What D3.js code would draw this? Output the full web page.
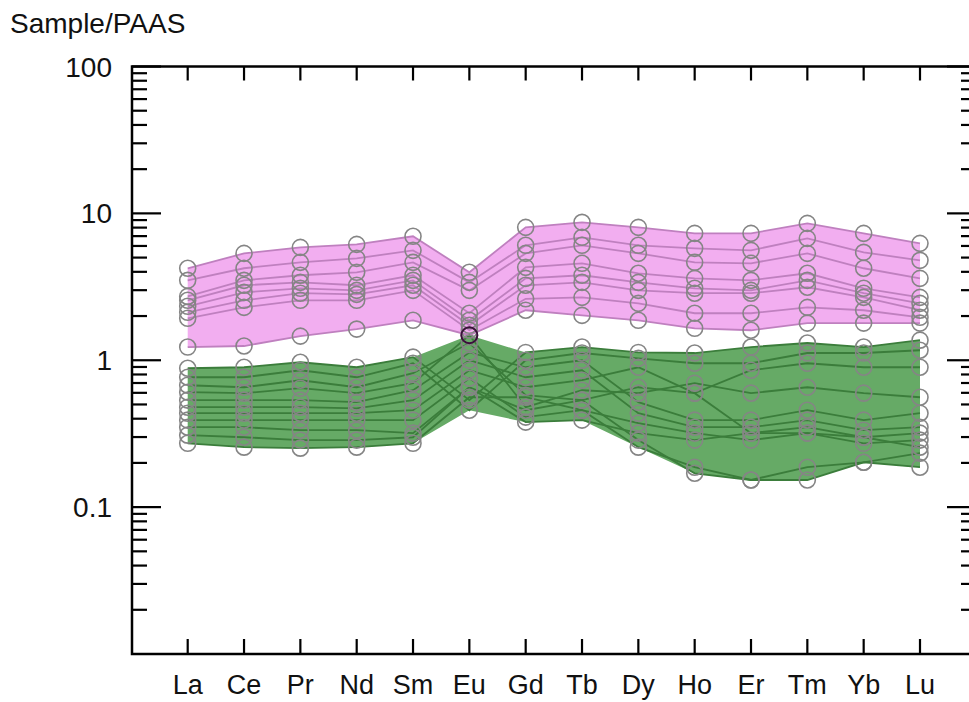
<!DOCTYPE html>
<html>
<head>
<meta charset="utf-8">
<script src="https://cdn.jsdelivr.net/npm/d3@7"></script>
<style>
  html, body { margin: 0; padding: 0; background: #fff; }
  svg { display: block; font-family: "Liberation Sans", Arial, sans-serif; }
</style>
</head>
<body>
<svg id="chart" width="969" height="702"></svg>
<script>
// ---- Data (Sample/PAAS) ----
const elements = ["La","Ce","Pr","Nd","Sm","Eu","Gd","Tb","Dy","Ho","Er","Tm","Yb","Lu"];
const yTickValues = [100, 10, 1, 0.1];
const yTickLabels = ["100", "10", "1", "0.1"];
const yAxisTitle = "Sample/PAAS";

const pinkGroup = [
  [4.23, 5.34, 5.87, 6.15, 6.98, 3.97, 8.03, 8.69, 8.03, 7.31, 7.31, 8.55, 7.31, 6.25],
  [3.50, 4.23, 4.64, 4.94, 5.60, 3.39, 6.06, 6.87, 6.06, 5.78, 5.60, 6.76, 5.43, 4.79],
  [2.72, 3.50, 3.79, 3.97, 4.64, 2.99, 5.34, 6.06, 5.34, 4.64, 4.57, 5.34, 4.23, 3.61],
  [2.56, 3.24, 3.39, 3.24, 3.79, 2.09, 4.29, 4.57, 3.91, 3.61, 3.50, 3.91, 3.09, 2.68],
  [2.33, 2.90, 3.09, 2.99, 3.50, 1.87, 3.61, 3.79, 3.39, 3.09, 2.99, 3.50, 2.86, 2.44],
  [2.12, 2.56, 2.86, 2.81, 3.24, 1.73, 3.24, 3.39, 2.99, 2.86, 2.86, 3.14, 2.68, 2.19],
  [1.93, 2.29, 2.56, 2.56, 2.99, 1.60, 2.62, 2.68, 2.44, 2.09, 2.09, 2.29, 2.19, 1.96],
  [1.23, 1.25, 1.46, 1.63, 1.87, 1.48, 2.19, 2.02, 1.87, 1.65, 1.60, 1.79, 1.79, 1.79]
];

const greenGroup = [
  [0.882, 0.896, 0.969, 0.896, 1.05, 0.535, 1.13, 1.23, 1.13, 1.12, 1.23, 1.31, 1.23, 1.37],
  [0.766, 0.766, 0.855, 0.766, 0.954, 0.457, 1.00, 1.12, 1.03, 0.954, 0.954, 1.12, 1.12, 1.17],
  [0.676, 0.655, 0.731, 0.655, 0.816, 1.31, 0.578, 0.535, 0.655, 0.597, 0.855, 0.954, 0.896, 0.896],
  [0.606, 0.597, 0.645, 0.597, 0.698, 1.48, 0.479, 0.625, 0.597, 0.698, 0.597, 0.655, 0.597, 0.560],
  [0.535, 0.535, 0.535, 0.518, 0.625, 1.13, 0.896, 1.00, 0.518, 0.391, 0.391, 0.457, 0.391, 0.436],
  [0.479, 0.479, 0.479, 0.471, 0.535, 1.00, 0.766, 0.855, 0.436, 0.350, 0.350, 0.391, 0.334, 0.350],
  [0.436, 0.436, 0.436, 0.436, 0.457, 0.855, 0.655, 0.731, 0.896, 0.597, 0.319, 0.350, 0.299, 0.319],
  [0.391, 0.391, 0.391, 0.391, 0.391, 0.755, 0.410, 0.457, 0.373, 0.319, 0.286, 0.319, 0.272, 0.286],
  [0.350, 0.350, 0.334, 0.334, 0.319, 0.655, 0.379, 0.391, 0.319, 0.286, 0.319, 0.319, 0.299, 0.256],
  [0.272, 0.256, 0.252, 0.256, 0.272, 0.560, 0.560, 0.457, 0.256, 0.187, 0.153, 0.187, 0.202, 0.233],
  [0.309, 0.299, 0.286, 0.286, 0.299, 0.655, 0.457, 0.535, 0.286, 0.170, 0.153, 0.153, 0.202, 0.187]
];

// ---- Layout ----
const svg = d3.select("#chart");
const frame = { left: 132, right: 976, top: 66.5, bottom: 654 };

const x = d3.scalePoint().domain(elements).range([187.7, 920]);
const y = d3.scaleLog().domain([0.01, 100]).range([frame.bottom, frame.top]);

const groups = [
  { data: pinkGroup, fill: "#f2aef0", line: "#bf80bf" },
  { data: greenGroup, fill: "#66aa66", line: "#3b7d3b" }
];

// envelopes
groups.forEach(g => {
  const env = elements.map((e, i) => ({
    e,
    lo: d3.min(g.data, s => s[i]),
    hi: d3.max(g.data, s => s[i])
  }));
  const area = d3.area()
    .x(d => x(d.e))
    .y0(d => y(d.lo))
    .y1(d => y(d.hi));
  svg.append("path").datum(env)
    .attr("d", area)
    .attr("fill", g.fill)
    .attr("stroke", "none");
});

// lines and circles
const line = d3.line().x((d, i) => x(elements[i])).y(d => y(d));
groups.forEach(g => {
  g.data.forEach(s => {
    svg.append("path").datum(s)
      .attr("d", line)
      .attr("fill", "none")
      .attr("stroke", g.line)
      .attr("stroke-width", 1.8);
  });
});
groups.forEach(g => {
  g.data.forEach(s => {
    svg.append("g").selectAll("circle").data(s).join("circle")
      .attr("cx", (d, i) => x(elements[i]))
      .attr("cy", d => y(d))
      .attr("r", 8)
      .attr("fill", "none")
      .attr("stroke", "#858585")
      .attr("stroke-width", 1.6);
  });
});

// points shared by both groups drawn dark
elements.forEach((e, i) => {
  pinkGroup.forEach(p => {
    greenGroup.forEach(q => {
      if (p[i] === q[i]) {
        svg.append("circle")
          .attr("cx", x(e)).attr("cy", y(p[i])).attr("r", 8)
          .attr("fill", "none").attr("stroke", "#3a103a").attr("stroke-width", 2);
      }
    });
  });
});

// ---- Axes / frame ----
const axisG = svg.append("g").attr("stroke", "#000");
axisG.append("rect")
  .attr("x", frame.left).attr("y", frame.top)
  .attr("width", frame.right - frame.left).attr("height", frame.bottom - frame.top)
  .attr("fill", "none").attr("stroke-width", 2.5);

const minorVals = [];
[0.01, 0.1, 1, 10].forEach(dec => { for (let k = 2; k <= 9; k++) minorVals.push(dec * k); });

// left & right ticks
yTickValues.forEach(v => {
  axisG.append("line").attr("x1", frame.left).attr("x2", frame.left + 29)
    .attr("y1", y(v)).attr("y2", y(v)).attr("stroke-width", 2.2);
  axisG.append("line").attr("x1", frame.right).attr("x2", frame.right - 29)
    .attr("y1", y(v)).attr("y2", y(v)).attr("stroke-width", 2.2);
});
minorVals.forEach(v => {
  axisG.append("line").attr("x1", frame.left).attr("x2", frame.left + 15)
    .attr("y1", y(v)).attr("y2", y(v)).attr("stroke-width", 2.2);
  axisG.append("line").attr("x1", frame.right).attr("x2", frame.right - 15)
    .attr("y1", y(v)).attr("y2", y(v)).attr("stroke-width", 2.2);
});
// top & bottom ticks
elements.forEach(e => {
  axisG.append("line").attr("x1", x(e)).attr("x2", x(e))
    .attr("y1", frame.top).attr("y2", frame.top + 14).attr("stroke-width", 2.2);
  axisG.append("line").attr("x1", x(e)).attr("x2", x(e))
    .attr("y1", frame.bottom).attr("y2", frame.bottom - 15).attr("stroke-width", 2.2);
});

// y tick labels
svg.append("g").selectAll("text").data(yTickValues).join("text")
  .attr("x", 112)
  .attr("y", d => y(d) + 10)
  .attr("text-anchor", "end")
  .attr("font-size", 28)
  .attr("fill", "#111")
  .text((d, i) => yTickLabels[i]);

// x labels
svg.append("g").selectAll("text").data(elements).join("text")
  .attr("x", d => x(d))
  .attr("y", 694)
  .attr("text-anchor", "middle")
  .attr("font-size", 27)
  .attr("fill", "#111")
  .text(d => d);

// axis title
svg.append("text")
  .attr("x", 10).attr("y", 33)
  .attr("font-size", 28)
  .attr("fill", "#111")
  .text(yAxisTitle);
</script>
</body>
</html>
